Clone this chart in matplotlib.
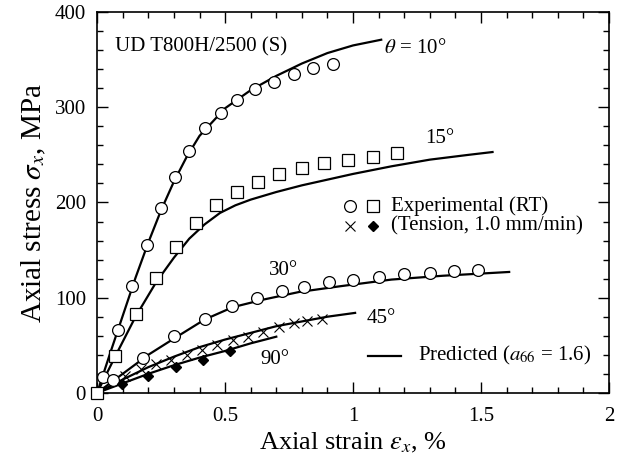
import matplotlib
matplotlib.use('Agg')
import matplotlib.pyplot as plt
from matplotlib.ticker import MultipleLocator

plt.rcParams['font.family'] = ['Liberation Serif', 'DejaVu Serif']
plt.rcParams['mathtext.fontset'] = 'stix'

# experimental points (strain %, stress MPa)
x10 = [0.022, 0.082, 0.138, 0.194, 0.25, 0.306, 0.36, 0.42, 0.483, 0.548, 0.618, 0.69, 0.77, 0.845, 0.923]
y10 = [17, 66, 112, 155, 194, 227, 254, 278, 294, 308, 319, 327, 335, 341, 346]

x15 = [0, 0.069, 0.152, 0.23, 0.309, 0.385, 0.465, 0.545, 0.63, 0.712, 0.80, 0.887, 0.98, 1.077, 1.17]
y15 = [0, 39, 83, 121, 153, 178, 197, 211, 221, 230, 236, 241, 245, 248, 252]

x30 = [0.06, 0.18, 0.30, 0.42, 0.527, 0.623, 0.724, 0.807, 0.905, 1.0, 1.10, 1.20, 1.30, 1.395, 1.49]
y30 = [13, 37, 60, 78, 91, 100, 107, 111, 116, 119, 122, 125, 126, 128, 129]

x45 = [0.11, 0.17, 0.23, 0.29, 0.35, 0.41, 0.47, 0.53, 0.59, 0.65, 0.71, 0.77, 0.82, 0.88]
y45 = [18, 25, 30, 35, 40, 45, 50, 55, 59, 64, 69, 73, 75, 78]

x90 = [0.099, 0.2, 0.309, 0.412, 0.52]
y90 = [9, 18, 27, 35, 44]

# predicted curves
p10x = [0, 0.05, 0.1, 0.15, 0.2, 0.25, 0.3, 0.35, 0.4, 0.5, 0.6, 0.7, 0.8, 0.9, 1.0, 1.11]
p10y = [0, 41, 81, 121, 158, 192, 222, 248, 270, 299, 318, 333, 346, 357, 365, 371]

p15x = [0, 0.07, 0.15, 0.23, 0.3, 0.36, 0.42, 0.48, 0.54, 0.6, 0.7, 0.8, 0.9, 1.0, 1.15, 1.3, 1.45, 1.545]
p15y = [0, 38, 80, 116, 142, 162, 177, 189, 197, 203, 211, 218, 224, 230, 238, 245, 250, 253]

p30x = [0, 0.1, 0.2, 0.3, 0.42, 0.53, 0.65, 0.79, 0.95, 1.15, 1.35, 1.61]
p30y = [0, 20, 40, 57, 77, 90, 98, 106, 112, 119, 123, 127]

p45x = [0, 0.1, 0.2, 0.3, 0.4, 0.5, 0.6, 0.7, 0.8, 0.9, 1.008]
p45y = [0, 14, 27, 38, 48, 56, 63, 70, 75, 80, 84]

p90x = [0, 0.1, 0.2, 0.3, 0.4, 0.5, 0.6, 0.7]
p90y = [0, 10, 20, 29, 37, 44, 52, 59]

fig = plt.figure(figsize=(6.35, 4.66), dpi=100)
ax = fig.add_axes([0.153, 0.157, 0.806, 0.817])

lw = 1.6
for px, py in [(p10x, p10y), (p15x, p15y), (p30x, p30y), (p45x, p45y), (p90x, p90y)]:
    ax.plot(px, py, color='black', lw=lw, zorder=2)

mk = dict(linestyle='none', clip_on=False, zorder=3)
ax.plot(x10, y10, marker='o', ms=8.5, mfc='white', mec='black', mew=0.9, **mk)
ax.plot(x30, y30, marker='o', ms=8.5, mfc='white', mec='black', mew=0.9, **mk)
ax.plot(x15, y15, marker='s', ms=8, mfc='white', mec='black', mew=0.9, **mk)
ax.plot(x45, y45, marker='x', ms=6.5, color='black', mew=0.8, **mk)
ax.plot(x90, y90, marker='D', ms=5.5, mfc='black', mec='black', **mk)

ax.set_xlim(0, 2)
ax.set_ylim(0, 400)
ax.xaxis.set_major_locator(MultipleLocator(0.5))
ax.xaxis.set_minor_locator(MultipleLocator(0.1))
ax.yaxis.set_major_locator(MultipleLocator(100))
ax.yaxis.set_minor_locator(MultipleLocator(20))
ax.set_xticks([0, 0.5, 1, 1.5, 2])
ax.set_xticklabels(['0', '0.5', '1', '1.5', '2'])
ax.tick_params(which='both', direction='in', top=True, right=True, labelsize=15)
ax.tick_params(which='major', length=8, width=1)
ax.tick_params(which='minor', length=4, width=1)
ax.tick_params(axis='x', pad=10)
ax.tick_params(axis='y', pad=8)
for s in ax.spines.values():
    s.set_linewidth(1.2)

ax.set_xlabel(r'Axial strain $\varepsilon_x$, %', fontsize=19, labelpad=4)
ax.set_ylabel(r'Axial stress $\sigma_x$, MPa', fontsize=21, labelpad=5)

fs = 15
ax.text(0.07, 364, 'UD T800H/2500 (S)', fontsize=fs, va='center')
ax.text(1.12, 362, r'$\theta$ = 10°', fontsize=fs, va='center')
ax.text(1.28, 267, '15°', fontsize=fs, va='center')
ax.text(0.67, 129, '30°', fontsize=fs, va='center')
ax.text(1.053, 78, '45°', fontsize=fs, va='center')
ax.text(0.637, 35, '90°', fontsize=fs, va='center')

# legend drawn by hand
ax.plot([0.988], [196], marker='o', ms=8.5, mfc='white', mec='black', mew=0.9, linestyle='none')
ax.plot([1.077], [196], marker='s', ms=8, mfc='white', mec='black', mew=0.9, linestyle='none')
ax.text(1.15, 196, 'Experimental (RT)', fontsize=fs, va='center')
ax.plot([0.988], [175], marker='x', ms=6.5, color='black', mew=0.8, linestyle='none')
ax.plot([1.077], [175], marker='D', ms=5.5, color='black', linestyle='none')
ax.text(1.15, 175, '(Tension, 1.0 mm/min)', fontsize=fs, va='center')
ax.plot([1.059, 1.188], [39, 39], color='black', lw=lw)
ax.text(1.255, 39, r'Predicted ($a_{66}$ = 1.6)', fontsize=fs, va='center')

fig.savefig('out.png', dpi=100)
